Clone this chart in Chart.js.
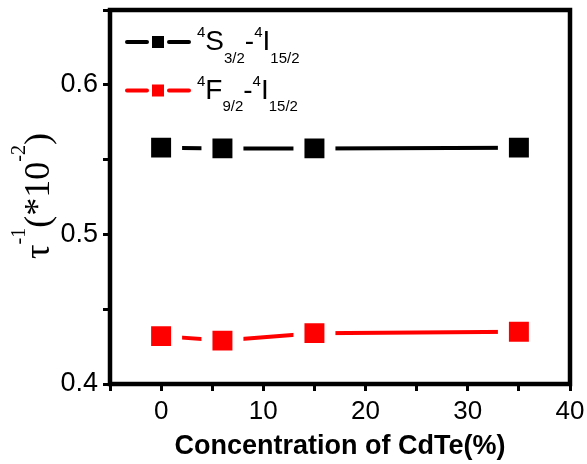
<!DOCTYPE html>
<html>
<head>
<meta charset="utf-8">
<script src="https://cdn.jsdelivr.net/npm/chart.js@4.4.0/dist/chart.umd.min.js"></script>
<style>
  html, body { margin: 0; padding: 0; background: #fff; }
</style>
</head>
<body>
<canvas id="myChart" width="587" height="464"></canvas>
<script>
// data
const cdte = [0, 6, 15, 35];
const tauS = [0.558, 0.5575, 0.5575, 0.558];
const tauF = [0.432, 0.429, 0.434, 0.435];
const xTicks = [-5, 0, 5, 10, 15, 20, 25, 30, 35, 40];
const xLabels = [0, 10, 20, 30, 40];
const yTicks = [0.4, 0.45, 0.5, 0.55, 0.6, 0.65];
const yLabels = [0.4, 0.5, 0.6];
const seriesNames = ['4S3/2-4I15/2', '4F9/2-4I15/2'];
const legendParts = [
  [['4', 'sup'], ['S', ''], ['3/2', 'sub'], ['-', ''], ['4', 'sup'], ['I', ''], ['15/2', 'sub']],
  [['4', 'sup'], ['F', ''], ['9/2', 'sub'], ['-', ''], ['4', 'sup'], ['I', ''], ['15/2', 'sub']]
];
const yTitleParts = [['τ', ''], ['-1', 'sup'], ['(*10', ''], ['-2', 'sup'], [')', '']];
const colors = ['#000000', '#ff0000'];

const sans = '"Liberation Sans", Arial, sans-serif';
const serif = '"Liberation Serif", "Times New Roman", serif';

// text with superscripts / subscripts
function richText(ctx, parts, x, y, size, family, o) {
  const small = Math.round(size * o.ratio);
  const fontOf = k => (k ? small : size) + 'px ' + family;
  let w = 0;
  parts.forEach(([t, k]) => { ctx.font = fontOf(k); w += ctx.measureText(t).width; });
  let cx = o.center ? x - w / 2 : x;
  ctx.textAlign = 'left';
  ctx.textBaseline = 'alphabetic';
  parts.forEach(([t, k]) => {
    ctx.font = fontOf(k);
    const dy = k === 'sup' ? -size * o.sup : k === 'sub' ? size * o.sub : 0;
    ctx.fillText(t, cx, y + dy);
    cx += ctx.measureText(t).width;
  });
}

const frame = {
  id: 'frame',
  afterDraw(chart) {
    const { ctx, chartArea: a } = chart;
    ctx.save();
    ctx.strokeStyle = '#000';
    ctx.lineWidth = 4.5;
    ctx.strokeRect(a.left, a.top, a.right - a.left, a.bottom - a.top);
    ctx.restore();
  }
};

const legendBox = {
  id: 'legendBox',
  afterDraw(chart) {
    const ctx = chart.ctx;
    ctx.save();
    legendParts.forEach((parts, i) => {
      const y = 42 + i * 48.5;
      ctx.strokeStyle = colors[i];
      ctx.fillStyle = colors[i];
      ctx.lineWidth = 4;
      ctx.lineCap = 'round';
      ctx.beginPath();
      ctx.moveTo(127, y); ctx.lineTo(147, y);
      ctx.moveTo(169, y); ctx.lineTo(189, y);
      ctx.stroke();
      ctx.fillRect(152, y - 6, 12, 12);
      ctx.fillStyle = '#000';
      richText(ctx, parts, 197, y + 8, 28, sans, { ratio: 0.55, sup: 0.45, sub: 0.45 });
    });
    ctx.restore();
  }
};

const yTitle = {
  id: 'yTitle',
  afterDraw(chart) {
    const ctx = chart.ctx;
    ctx.save();
    ctx.translate(49, 196);
    ctx.rotate(-Math.PI / 2);
    ctx.fillStyle = '#000';
    richText(ctx, yTitleParts, 0, 0, 36, serif, { ratio: 0.55, sup: 0.66, sub: 0, center: true });
    ctx.restore();
  }
};

const tickGrid = {
  drawOnChartArea: false,
  drawTicks: true,
  tickLength: 7,
  tickWidth: 3,
  tickColor: '#000'
};

new Chart(document.getElementById('myChart'), {
  type: 'line',
  data: {
    datasets: [tauS, tauF].map((vals, i) => ({
      label: seriesNames[i],
      data: cdte.map((x, j) => ({ x: x, y: vals[j] })),
      borderColor: colors[i],
      borderWidth: 4,
      borderCapStyle: 'round',
      backgroundColor: colors[i],
      pointStyle: 'rect',
      pointRadius: 21.9,
      pointBackgroundColor: colors[i],
      pointBorderColor: '#ffffff',
      pointBorderWidth: 11,
      tension: 0
    }))
  },
  options: {
    responsive: false,
    animation: false,
    layout: { autoPadding: false, padding: { top: 10, right: 17, left: 0, bottom: 0 } },
    plugins: { legend: { display: false }, tooltip: { enabled: false } },
    scales: {
      x: {
        type: 'linear',
        min: -5,
        max: 40,
        afterBuildTicks: s => { s.ticks = xTicks.map(v => ({ value: v })); },
        afterFit: s => { s.height = 80; s.paddingLeft = 0; s.paddingRight = 0; },
        grid: tickGrid,
        border: { display: false },
        ticks: {
          autoSkip: false,
          maxRotation: 0,
          padding: 5,
          color: '#000',
          font: { family: sans, size: 26 },
          callback: v => xLabels.includes(v) ? String(v) : ''
        },
        title: {
          display: true,
          text: 'Concentration of CdTe(%)',
          color: '#000',
          font: { family: sans, size: 27, weight: 'bold' },
          padding: { top: 0, bottom: 1 }
        }
      },
      y: {
        min: 0.4,
        max: 0.65,
        afterBuildTicks: s => { s.ticks = yTicks.map(v => ({ value: v })); },
        afterFit: s => { s.width = 110; s.paddingTop = 0; s.paddingBottom = 0; },
        grid: tickGrid,
        border: { display: false },
        ticks: {
          autoSkip: false,
          padding: 5,
          color: '#000',
          font: { family: sans, size: 27 },
          callback: v => yLabels.some(l => Math.abs(l - v) < 1e-9) ? v.toFixed(1) : ''
        }
      }
    }
  },
  plugins: [frame, legendBox, yTitle]
});
</script>
</body>
</html>
